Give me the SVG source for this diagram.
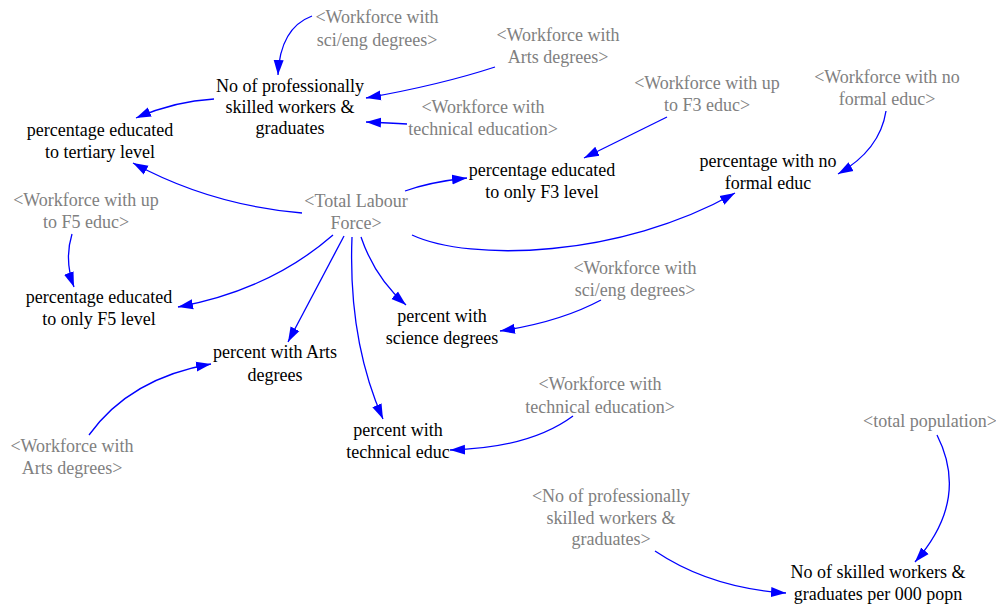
<svg xmlns="http://www.w3.org/2000/svg" width="996" height="605" viewBox="0 0 996 605">
<style>
text{font-family:"Liberation Serif",serif;font-size:18px;text-anchor:middle}
.n{fill:#000}
.g{fill:#808080}
.c{fill:none;stroke:#0000FF;stroke-width:1.3;marker-end:url(#ah)}
</style>
<defs>
<marker id="ah" markerUnits="userSpaceOnUse" markerWidth="16" markerHeight="12" refX="15" refY="5" orient="auto" viewBox="0 0 16 10">
<path d="M0,0 L15,5 L0,10 z" fill="#0000FF"/>
</marker>
</defs>
<rect width="996" height="605" fill="#fff"/>
<g id="connectors">
<path class="c" d="M312,16 Q280,28 278,75"/>
<path class="c" d="M495,67 Q440,85 366,98"/>
<path class="c" d="M407,124 Q390,123 366,122"/>
<path class="c" d="M214,99 Q175,101 136,118"/>
<path class="c" d="M302,213 Q210,205 133,163"/>
<path class="c" d="M405,191 Q430,182 467,178"/>
<path class="c" d="M667,117 L584,158"/>
<path class="c" d="M886,111 Q880,150 838,174"/>
<path class="c" d="M412,235 C470,262 620,258 735,193"/>
<path class="c" d="M72,234 Q64,260 74,287"/>
<path class="c" d="M333,235 Q270,290 178,307"/>
<path class="c" d="M344,236 L288,342"/>
<path class="c" d="M352,237 Q348,340 383,419"/>
<path class="c" d="M361,237 Q375,278 406,305"/>
<path class="c" d="M601,300 Q560,322 500,331"/>
<path class="c" d="M89,435 Q130,378 211,364"/>
<path class="c" d="M573,416 Q530,448 450,450"/>
<path class="c" d="M937,435 Q970,500 915,562"/>
<path class="c" d="M655,551 Q710,588 786,593"/>
</g>
<g id="wf_scieng_top"><text class="g" font-family="Liberation Serif" x="377" y="23">&lt;Workforce with</text><text class="g" font-family="Liberation Serif" x="377" y="46">sci/eng degrees&gt;</text></g>
<g id="wf_arts_top"><text class="g" font-family="Liberation Serif" x="558" y="41">&lt;Workforce with</text><text class="g" font-family="Liberation Serif" x="558" y="63">Arts degrees&gt;</text></g>
<g id="wf_f3"><text class="g" font-family="Liberation Serif" x="707" y="89">&lt;Workforce with up</text><text class="g" font-family="Liberation Serif" x="707" y="111">to F3 educ&gt;</text></g>
<g id="wf_noformal"><text class="g" font-family="Liberation Serif" x="887" y="83">&lt;Workforce with no</text><text class="g" font-family="Liberation Serif" x="887" y="105">formal educ&gt;</text></g>
<g id="wf_tech_top"><text class="g" font-family="Liberation Serif" x="483" y="113">&lt;Workforce with</text><text class="g" font-family="Liberation Serif" x="483" y="135">technical education&gt;</text></g>
<g id="prof_skilled"><text class="n" font-family="Liberation Serif" x="290" y="92">No of professionally</text><text class="n" font-family="Liberation Serif" x="290" y="113">skilled workers &amp;</text><text class="n" font-family="Liberation Serif" x="290" y="134">graduates</text></g>
<g id="pct_tertiary"><text class="n" font-family="Liberation Serif" x="100" y="136">percentage educated</text><text class="n" font-family="Liberation Serif" x="100" y="158">to tertiary level</text></g>
<g id="pct_f3"><text class="n" font-family="Liberation Serif" x="542" y="176">percentage educated</text><text class="n" font-family="Liberation Serif" x="542" y="198">to only F3 level</text></g>
<g id="pct_noformal"><text class="n" font-family="Liberation Serif" x="768" y="167">percentage with no</text><text class="n" font-family="Liberation Serif" x="768" y="189">formal educ</text></g>
<g id="total_labour"><text class="g" font-family="Liberation Serif" x="356" y="207">&lt;Total Labour</text><text class="g" font-family="Liberation Serif" x="356" y="229">Force&gt;</text></g>
<g id="wf_f5"><text class="g" font-family="Liberation Serif" x="86" y="206">&lt;Workforce with up</text><text class="g" font-family="Liberation Serif" x="86" y="228">to F5 educ&gt;</text></g>
<g id="pct_f5"><text class="n" font-family="Liberation Serif" x="99" y="303">percentage educated</text><text class="n" font-family="Liberation Serif" x="99" y="325">to only F5 level</text></g>
<g id="pct_science"><text class="n" font-family="Liberation Serif" x="442" y="322">percent with</text><text class="n" font-family="Liberation Serif" x="442" y="344">science degrees</text></g>
<g id="pct_arts"><text class="n" font-family="Liberation Serif" x="275" y="358">percent with Arts</text><text class="n" font-family="Liberation Serif" x="275" y="381">degrees</text></g>
<g id="wf_scieng_2"><text class="g" font-family="Liberation Serif" x="635" y="274">&lt;Workforce with</text><text class="g" font-family="Liberation Serif" x="635" y="296">sci/eng degrees&gt;</text></g>
<g id="wf_arts_2"><text class="g" font-family="Liberation Serif" x="72" y="452">&lt;Workforce with</text><text class="g" font-family="Liberation Serif" x="72" y="474">Arts degrees&gt;</text></g>
<g id="pct_tech"><text class="n" font-family="Liberation Serif" x="398" y="436">percent with</text><text class="n" font-family="Liberation Serif" x="398" y="458">technical educ</text></g>
<g id="wf_tech_2"><text class="g" font-family="Liberation Serif" x="600" y="390">&lt;Workforce with</text><text class="g" font-family="Liberation Serif" x="600" y="413">technical education&gt;</text></g>
<g id="total_pop"><text class="g" font-family="Liberation Serif" x="930" y="427">&lt;total population&gt;</text></g>
<g id="prof_skilled_2"><text class="g" font-family="Liberation Serif" x="611" y="502">&lt;No of professionally</text><text class="g" font-family="Liberation Serif" x="611" y="524">skilled workers &amp;</text><text class="g" font-family="Liberation Serif" x="611" y="545">graduates&gt;</text></g>
<g id="skilled_per_000"><text class="n" font-family="Liberation Serif" x="878" y="578">No of skilled workers &amp;</text><text class="n" font-family="Liberation Serif" x="878" y="600">graduates per 000 popn</text></g>
</svg>
